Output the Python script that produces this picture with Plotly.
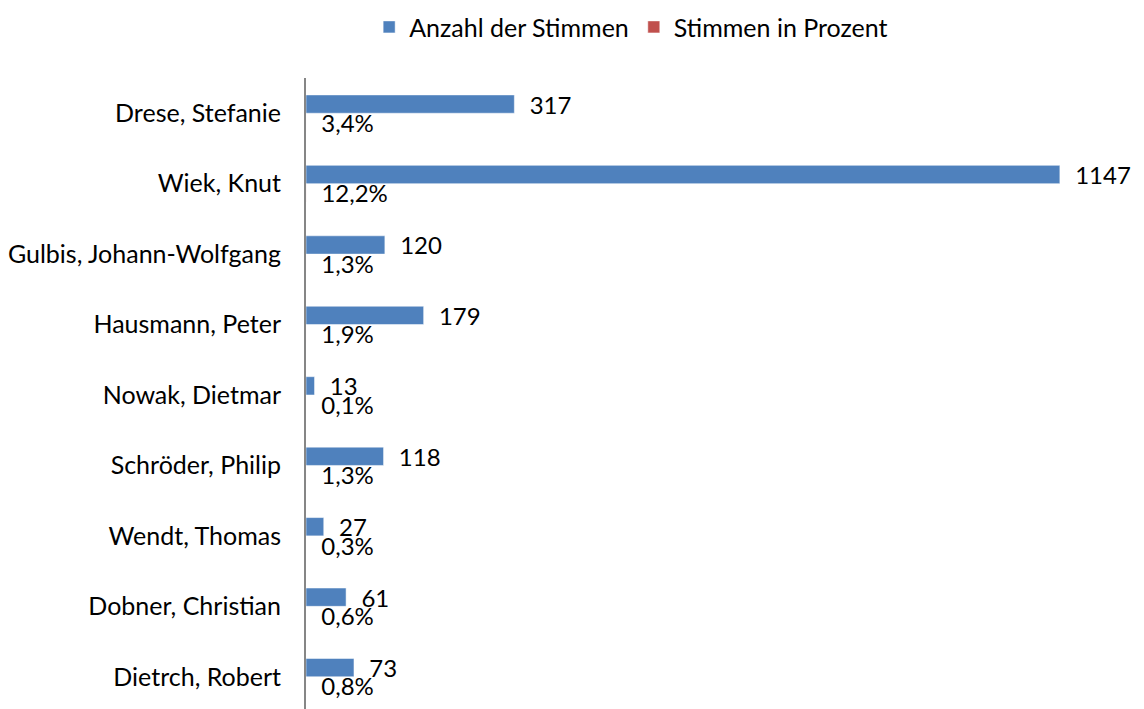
import pandas as pd
import plotly.graph_objects as go

def plot_stimmen(df):
    fig = go.Figure()
    fig.add_trace(go.Bar(
        y=df['Name'],
        x=df['Stimmen'],
        orientation='h',
        name='Anzahl der Stimmen',
        marker_color='#4F81BD',
        text=['  ' + str(v) for v in df['Stimmen']],
        textposition='outside',
        textfont=dict(size=24),
        cliponaxis=False
    ))
    fig.add_trace(go.Bar(
        y=df['Name'],
        x=df['Prozent'],
        orientation='h',
        name='Stimmen in Prozent',
        marker_color='#C0504D',
        text=['  ' + f"{v * 100:.1f}%".replace('.', ',') for v in df['Prozent']],
        textposition='outside',
        textfont=dict(size=24),
        cliponaxis=False
    ))
    fig.update_layout(
        template='plotly_white',
        width=1144, height=709,
        margin=dict(l=298, r=8, t=70, b=5),
        barmode='group', bargap=0.48, bargroupgap=0,
        font=dict(family='Lato', size=25, color='black'),
        uniformtext=dict(minsize=24, mode='show'),
        legend=dict(orientation='h', x=0.388, xanchor='center', yref='container', y=0.973, yanchor='middle',
                    font=dict(size=25), itemwidth=30),
        plot_bgcolor='white', paper_bgcolor='white'
    )
    fig.update_xaxes(range=[0, 1275], visible=False, showgrid=False)
    fig.update_yaxes(autorange='reversed', showline=True, linecolor='#868686', linewidth=2,
                     showgrid=False, ticks='', ticklabelstandoff=18, automargin=False)
    return fig

df = pd.DataFrame({
    'Name': ['Drese, Stefanie', 'Wiek, Knut', 'Gulbis, Johann-Wolfgang', 'Hausmann, Peter',
             'Nowak, Dietmar', 'Schröder, Philip', 'Wendt, Thomas', 'Dobner, Christian',
             'Dietrch, Robert'],
    'Stimmen': [317, 1147, 120, 179, 13, 118, 27, 61, 73],
    'Prozent': [0.034, 0.122, 0.013, 0.019, 0.001, 0.013, 0.003, 0.006, 0.008],
})

fig = plot_stimmen(df)
fig.write_html("out.html")
